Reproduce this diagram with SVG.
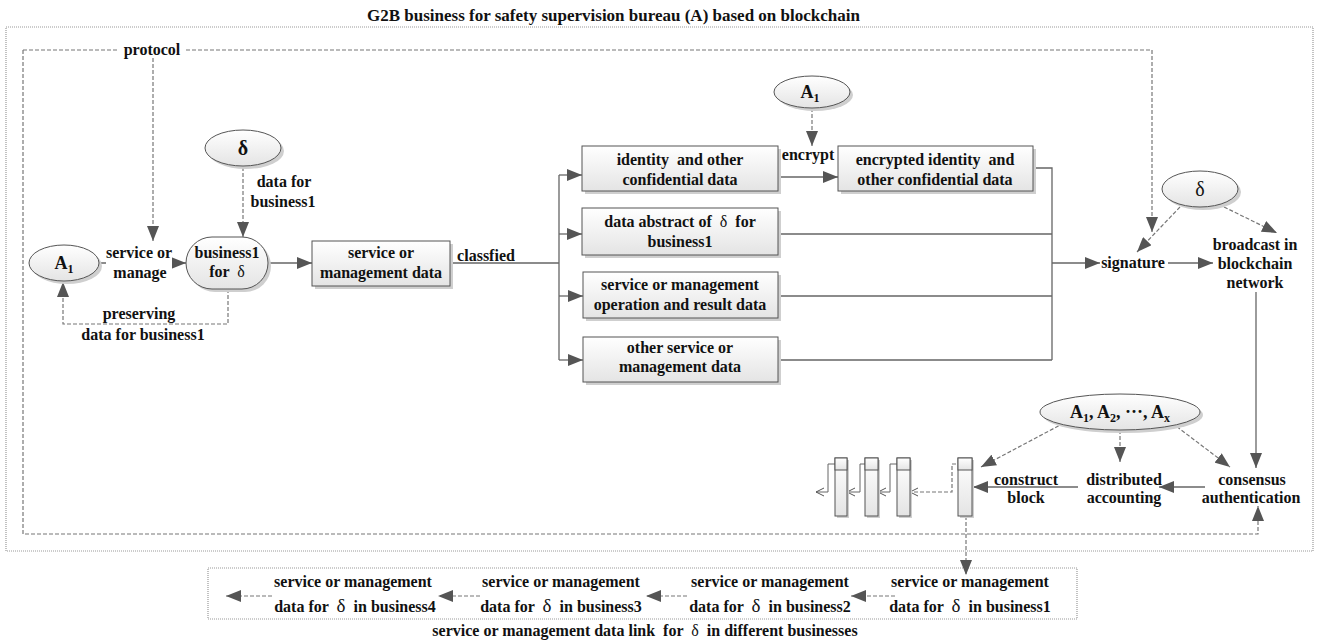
<svg xmlns="http://www.w3.org/2000/svg" width="1317" height="641" viewBox="0 0 1317 641">
<style>
.t{font-family:"Liberation Serif","Times New Roman",serif;font-size:16px;font-weight:bold;fill:#111;text-anchor:middle;white-space:pre}
.d{font-weight:normal}
.box{fill:url(#g);stroke:#555;stroke-width:1}
.sh{fill:#cfcfcf}
.ln{stroke:#666;stroke-width:1.3;fill:none}
.dl{stroke:#777;stroke-width:1.2;stroke-dasharray:4 2;fill:none}
.frame{fill:none;stroke:#999;stroke-width:1.2;stroke-dasharray:1 1}
.bg{fill:#fff}
</style>
<defs>
<linearGradient id="g" x1="0" y1="0" x2="0" y2="1"><stop offset="0" stop-color="#ffffff"/><stop offset="1" stop-color="#e4e4e4"/></linearGradient>
<marker id="ah" markerUnits="userSpaceOnUse" markerWidth="16" markerHeight="12" refX="15" refY="6" orient="auto"><path d="M0,0 L15,6 L0,12 z" fill="#555"/></marker>
<marker id="oa" markerUnits="userSpaceOnUse" markerWidth="10" markerHeight="10" refX="9" refY="5" orient="auto"><path d="M1,1 L9,5 L1,9" fill="none" stroke="#555" stroke-width="1"/></marker>
</defs>
<rect width="1317" height="641" fill="#fff"/>
<text class="t" x="367" y="21" style="text-anchor:start;font-size:17px">G2B business for safety supervision bureau (A) based on blockchain</text>
<rect class="frame" x="6" y="27" width="1307" height="524"/>
<rect class="frame" x="208" y="568" width="869" height="51"/>

<g id="connectors">
<path class="dl" d="M23,50 H118 M186,50 H1152"/>
<path class="dl" d="M1152,50 V232" marker-end="url(#ah)"/>
<path class="dl" d="M23,50 V534 H1258 V506" marker-end="url(#ah)"/>
<path class="dl" d="M153,58 V241" marker-end="url(#ah)"/>
<path class="dl" d="M243,167 V237" marker-end="url(#ah)"/>
<path class="ln" d="M99,263 H186" marker-end="url(#ah)"/>
<path class="dl" d="M228,289 V324 H63 V282" marker-end="url(#ah)"/>
<path class="ln" d="M268,263 H312" marker-end="url(#ah)"/>
<path class="ln" d="M450,263 H559 M559,175 V360"/>
<path class="ln" d="M559,175 H582" marker-end="url(#ah)"/>
<path class="ln" d="M559,234 H582" marker-end="url(#ah)"/>
<path class="ln" d="M559,296 H583" marker-end="url(#ah)"/>
<path class="ln" d="M559,360 H583" marker-end="url(#ah)"/>
<path class="ln" d="M778,177 H838" marker-end="url(#ah)"/>
<path class="dl" d="M812,108 V146" marker-end="url(#ah)"/>
<path class="ln" d="M1033,168 H1052 V360 M778,234 H1052 M778,296 H1052 M778,360 H1052"/>
<path class="ln" d="M1052,263 H1100" marker-end="url(#ah)"/>
<path class="ln" d="M1168,263 H1213" marker-end="url(#ah)"/>
<path class="dl" d="M1180,207 L1137,252" marker-end="url(#ah)"/>
<path class="dl" d="M1224,207 L1277,233" marker-end="url(#ah)"/>
<path class="ln" d="M1256,292 V468" marker-end="url(#ah)"/>
<path class="ln" d="M1205,487 H1159" marker-end="url(#ah)"/>
<path class="ln" d="M1078,487 H973" marker-end="url(#ah)"/>
<path class="dl" d="M1064,423 L981,467" marker-end="url(#ah)"/>
<path class="dl" d="M1120,430 V462" marker-end="url(#ah)"/>
<path class="dl" d="M1172,423 L1230,467" marker-end="url(#ah)"/>
<path class="dl" d="M966,516 V575" marker-end="url(#ah)"/>
<path class="dl" d="M962,464 H952 V492 H910" marker-end="url(#oa)"/>
<path class="ln" style="stroke-width:1" d="M903,464 H890 V492 H878" marker-end="url(#oa)"/>
<path class="ln" style="stroke-width:1" d="M873,464 H860 V492 H847" marker-end="url(#oa)"/>
<path class="ln" style="stroke-width:1" d="M843,464 H828 V492 H816" marker-end="url(#oa)"/>
<path class="dl" d="M895,596 H851" marker-end="url(#ah)"/>
<path class="dl" d="M687,596 H646" marker-end="url(#ah)"/>
<path class="dl" d="M480,596 H438" marker-end="url(#ah)"/>
<path class="dl" d="M272,596 H226" marker-end="url(#ah)"/>
</g>

<g id="protocol"><text class="t" x="152" y="55">protocol</text></g>
<g id="delta-top"><ellipse class="sh" cx="246" cy="151" rx="38" ry="18"/><ellipse class="box" cx="243" cy="148" rx="38" ry="18"/><text class="t" x="243" y="155" style="font-size:20px">δ</text></g>
<g id="lbl-data-for"><text class="t" x="284" y="187">data for</text><text class="t" x="283" y="207">business1</text></g>
<g id="a1-left"><ellipse class="sh" cx="67" cy="266" rx="35" ry="18"/><ellipse class="box" cx="64" cy="263" rx="35" ry="18"/><text class="t" x="64" y="269" style="font-size:18px">A<tspan dy="4" style="font-size:12px">1</tspan></text></g>
<g id="lbl-service-manage"><rect class="bg" x="106" y="244" width="66" height="38"/><text class="t" x="139" y="258">service or</text><text class="t" x="140" y="278">manage</text></g>
<g id="business1"><rect class="sh" x="189" y="240" width="82" height="52" rx="26"/><rect class="box" x="186" y="237" width="82" height="52" rx="26"/><text class="t" x="227" y="258">business1</text><text class="t" x="227" y="277">for  <tspan class="d">δ</tspan></text></g>
<g id="lbl-preserving"><text class="t" x="139" y="319">preserving</text><text class="t" x="143" y="340">data for business1</text></g>
<g id="svc-data"><rect class="sh" x="315" y="244" width="138" height="45"/><rect class="box" x="312" y="241" width="138" height="45"/><text class="t" x="381" y="258">service or</text><text class="t" x="381" y="278">management data</text></g>
<g id="lbl-classfied"><rect class="bg" x="457" y="247" width="58" height="15"/><text class="t" x="486" y="261">classfied</text></g>
<g id="box-identity"><rect class="sh" x="585" y="149" width="196" height="45"/><rect class="box" x="582" y="146" width="196" height="45"/><text class="t" x="680" y="165">identity  and other</text><text class="t" x="680" y="185">confidential data</text></g>
<g id="box-abstract"><rect class="sh" x="585" y="211" width="196" height="47"/><rect class="box" x="582" y="208" width="196" height="47"/><text class="t" x="680" y="227">data abstract of  <tspan class="d">δ</tspan>  for</text><text class="t" x="680" y="247">business1</text></g>
<g id="box-operation"><rect class="sh" x="586" y="275" width="195" height="46"/><rect class="box" x="583" y="272" width="195" height="46"/><text class="t" x="680" y="290">service or management</text><text class="t" x="680" y="310">operation and result data</text></g>
<g id="box-other"><rect class="sh" x="586" y="340" width="195" height="45"/><rect class="box" x="583" y="337" width="195" height="45"/><text class="t" x="680" y="353">other service or</text><text class="t" x="680" y="372">management data</text></g>
<g id="a1-top"><ellipse class="sh" cx="815" cy="95" rx="38" ry="16"/><ellipse class="box" cx="812" cy="92" rx="38" ry="16"/><text class="t" x="810" y="98" style="font-size:18px">A<tspan dy="4" style="font-size:12px">1</tspan></text></g>
<g id="lbl-encrypt"><text class="t" x="808" y="160">encrypt</text></g>
<g id="box-encrypted"><rect class="sh" x="841" y="149" width="195" height="45"/><rect class="box" x="838" y="146" width="195" height="45"/><text class="t" x="935" y="165">encrypted identity  and</text><text class="t" x="935" y="185">other confidential data</text></g>
<g id="signature"><text class="t" x="1133" y="268">signature</text></g>
<g id="delta-right"><ellipse class="sh" cx="1203" cy="192" rx="38" ry="18"/><ellipse class="box" cx="1200" cy="189" rx="38" ry="18"/><text class="t d" x="1200" y="196" style="font-size:20px">δ</text></g>
<g id="broadcast"><text class="t" x="1255" y="250">broadcast in</text><text class="t" x="1255" y="269">blockchain</text><text class="t" x="1255" y="288">network</text></g>
<g id="ax"><ellipse class="sh" cx="1123" cy="415" rx="80" ry="18"/><ellipse class="box" cx="1120" cy="412" rx="80" ry="18"/><text class="t" x="1120" y="418" style="font-size:18px">A<tspan dy="4" style="font-size:12px">1</tspan><tspan dy="-4">, A</tspan><tspan dy="4" style="font-size:12px">2</tspan><tspan dy="-4">, ···, A</tspan><tspan dy="4" style="font-size:12px">x</tspan></text></g>
<g id="consensus"><text class="t" x="1252" y="485">consensus</text><text class="t" x="1251" y="503">authentication</text></g>
<g id="distributed"><text class="t" x="1124" y="485">distributed</text><text class="t" x="1124" y="503">accounting</text></g>
<g id="construct"><text class="t" x="1026" y="485">construct</text><text class="t" x="1026" y="503">block</text></g>
<g id="blocks">
<rect class="sh" x="960" y="460" width="14" height="58"/><rect class="box" x="958" y="458" width="14" height="58"/><rect class="box" x="958" y="458" width="14" height="12"/>
<rect class="sh" x="899" y="460" width="13" height="58"/><rect class="box" x="897" y="458" width="13" height="58"/><rect class="box" x="897" y="458" width="13" height="12"/>
<rect class="sh" x="867" y="460" width="13" height="58"/><rect class="box" x="865" y="458" width="13" height="58"/><rect class="box" x="865" y="458" width="13" height="12"/>
<rect class="sh" x="837" y="460" width="12" height="58"/><rect class="box" x="835" y="458" width="12" height="58"/><rect class="box" x="835" y="458" width="12" height="12"/>
</g>
<g id="bus1"><text class="t" x="970" y="587">service or management</text><text class="t" x="970" y="612">data for  <tspan class="d" style="font-size:19px">δ</tspan>  in business1</text></g>
<g id="bus2"><text class="t" x="770" y="587">service or management</text><text class="t" x="770" y="612">data for  <tspan class="d" style="font-size:19px">δ</tspan>  in business2</text></g>
<g id="bus3"><text class="t" x="561" y="587">service or management</text><text class="t" x="561" y="612">data for  <tspan class="d" style="font-size:19px">δ</tspan>  in business3</text></g>
<g id="bus4"><text class="t" x="353" y="587">service or management</text><text class="t" x="355" y="612">data for  <tspan class="d" style="font-size:19px">δ</tspan>  in business4</text></g>
<g id="caption"><text class="t" x="645" y="636">service or management data link  for  <tspan class="d">δ</tspan>  in different businesses</text></g>
</svg>
